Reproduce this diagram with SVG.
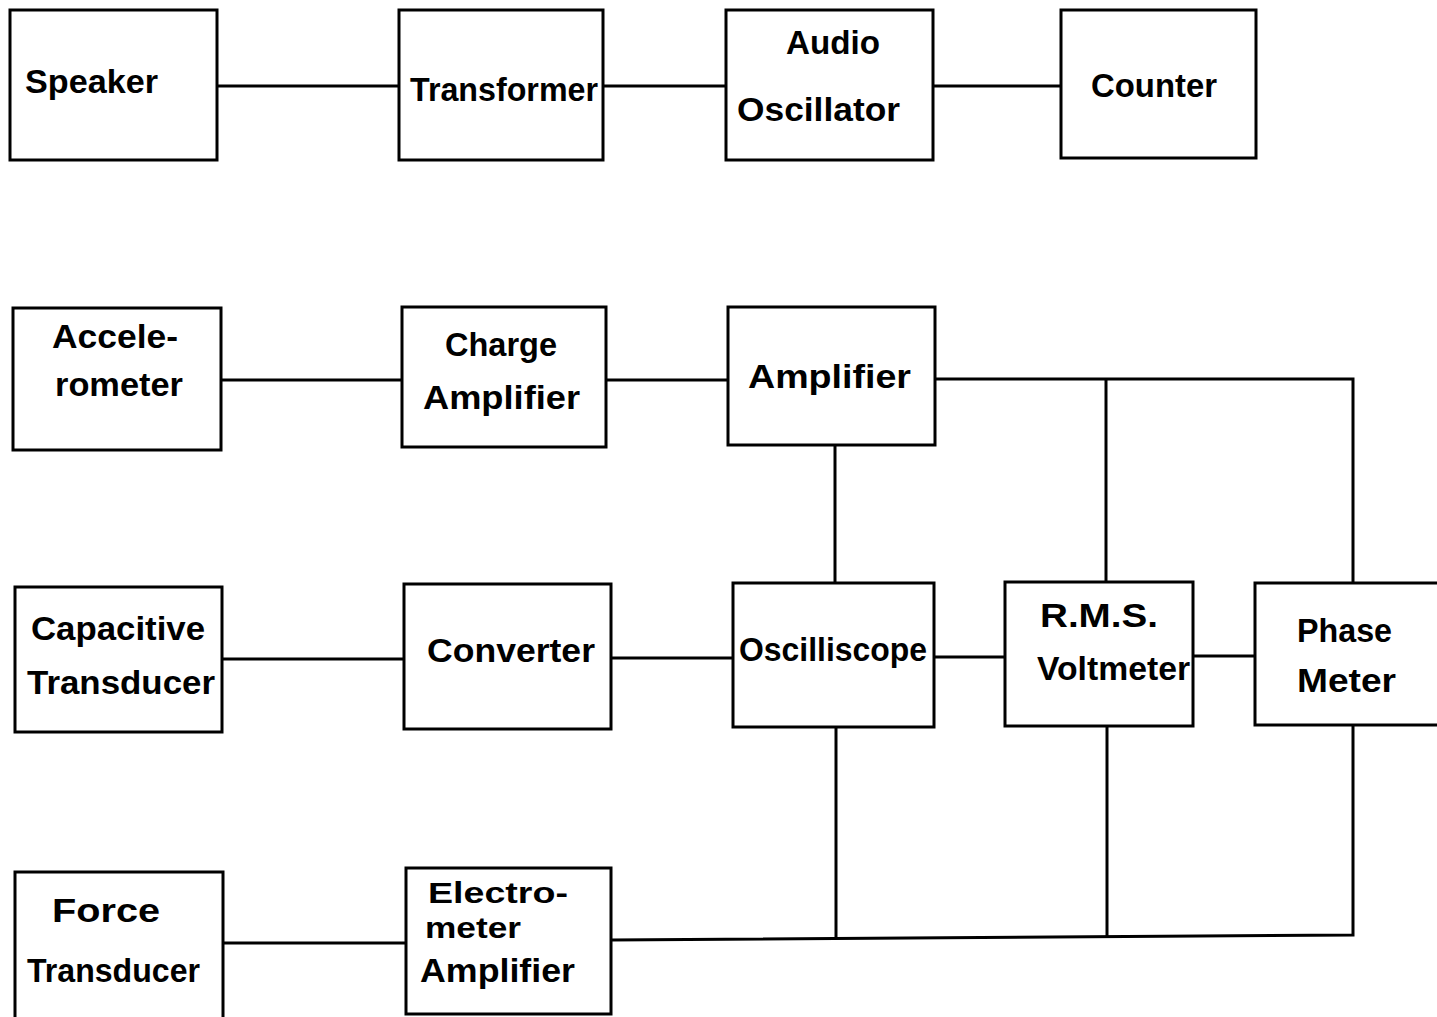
<svg xmlns="http://www.w3.org/2000/svg" width="1437" height="1017" viewBox="0 0 1437 1017">
<style>
.box{fill:#fff;stroke:#000;stroke-width:3}
.wire{fill:none;stroke:#000;stroke-width:3;stroke-linejoin:miter}
text{font-family:"Liberation Sans",Arial,sans-serif;font-weight:bold;font-size:34px;fill:#000}
.sm{font-size:30px}
</style>
<rect width="1437" height="1017" fill="#fff"/>
<g id="connectors">
<path class="wire" d="M217,86 H399"/>
<path class="wire" d="M603,86 H726"/>
<path class="wire" d="M933,86 H1061"/>
<path class="wire" d="M221,380 H402"/>
<path class="wire" d="M606,380 H728"/>
<path class="wire" d="M935,379 H1353 V583"/>
<path class="wire" d="M1106,379 V582"/>
<path class="wire" d="M835,445 V583"/>
<path class="wire" d="M222,659 H404"/>
<path class="wire" d="M611,658 H733"/>
<path class="wire" d="M934,657 H1005"/>
<path class="wire" d="M1193,656 H1255"/>
<path class="wire" d="M223,943 H406"/>
<path class="wire" d="M611,940 L1353,935 V725"/>
<path class="wire" d="M836,727 V939"/>
<path class="wire" d="M1107,726 V938"/>
</g>
<g id="speaker"><rect class="box" x="10" y="10" width="207" height="150"/><text x="25" y="93" textLength="133" lengthAdjust="spacingAndGlyphs">Speaker</text></g>
<g id="transformer"><rect class="box" x="399" y="10" width="204" height="150"/><text x="410" y="101" textLength="188" lengthAdjust="spacingAndGlyphs">Transformer</text></g>
<g id="audio-oscillator"><rect class="box" x="726" y="10" width="207" height="150"/><text x="786" y="54" textLength="94" lengthAdjust="spacingAndGlyphs">Audio</text><text x="737" y="121" textLength="163" lengthAdjust="spacingAndGlyphs">Oscillator</text></g>
<g id="counter"><rect class="box" x="1061" y="10" width="195" height="148"/><text x="1091" y="97" textLength="126" lengthAdjust="spacingAndGlyphs">Counter</text></g>
<g id="accelerometer"><rect class="box" x="13" y="308" width="208" height="142"/><text x="52" y="348" textLength="126" lengthAdjust="spacingAndGlyphs">Accele-</text><text x="55" y="396" textLength="128" lengthAdjust="spacingAndGlyphs">rometer</text></g>
<g id="charge-amplifier"><rect class="box" x="402" y="307" width="204" height="140"/><text x="445" y="356" textLength="112" lengthAdjust="spacingAndGlyphs">Charge</text><text x="423" y="409" textLength="157" lengthAdjust="spacingAndGlyphs">Amplifier</text></g>
<g id="amplifier"><rect class="box" x="728" y="307" width="207" height="138"/><text x="748" y="388" textLength="163" lengthAdjust="spacingAndGlyphs">Amplifier</text></g>
<g id="capacitive-transducer"><rect class="box" x="15" y="587" width="207" height="145"/><text x="31" y="640" textLength="174" lengthAdjust="spacingAndGlyphs">Capacitive</text><text x="27" y="694" textLength="188" lengthAdjust="spacingAndGlyphs">Transducer</text></g>
<g id="converter"><rect class="box" x="404" y="584" width="207" height="145"/><text x="427" y="662" textLength="168" lengthAdjust="spacingAndGlyphs">Converter</text></g>
<g id="oscilliscope"><rect class="box" x="733" y="583" width="201" height="144"/><text x="739" y="661" textLength="188" lengthAdjust="spacingAndGlyphs">Oscilliscope</text></g>
<g id="rms-voltmeter"><rect class="box" x="1005" y="582" width="188" height="144"/><text x="1040" y="627" textLength="118" lengthAdjust="spacingAndGlyphs">R.M.S.</text><text x="1037" y="680" textLength="153" lengthAdjust="spacingAndGlyphs">Voltmeter</text></g>
<g id="phase-meter"><rect class="box" x="1255" y="583" width="195" height="142"/><text x="1297" y="642" textLength="95" lengthAdjust="spacingAndGlyphs">Phase</text><text x="1297" y="692" textLength="99" lengthAdjust="spacingAndGlyphs">Meter</text></g>
<g id="force-transducer"><rect class="box" x="15" y="872" width="208" height="160"/><text x="52" y="922" textLength="108" lengthAdjust="spacingAndGlyphs">Force</text><text x="27" y="982" textLength="173" lengthAdjust="spacingAndGlyphs">Transducer</text></g>
<g id="electrometer-amplifier"><rect class="box" x="406" y="868" width="205" height="146"/><text class="sm" x="428" y="903" textLength="140" lengthAdjust="spacingAndGlyphs">Electro-</text><text class="sm" x="425" y="938" textLength="96" lengthAdjust="spacingAndGlyphs">meter</text><text x="420" y="982" textLength="155" lengthAdjust="spacingAndGlyphs">Amplifier</text></g>
</svg>
